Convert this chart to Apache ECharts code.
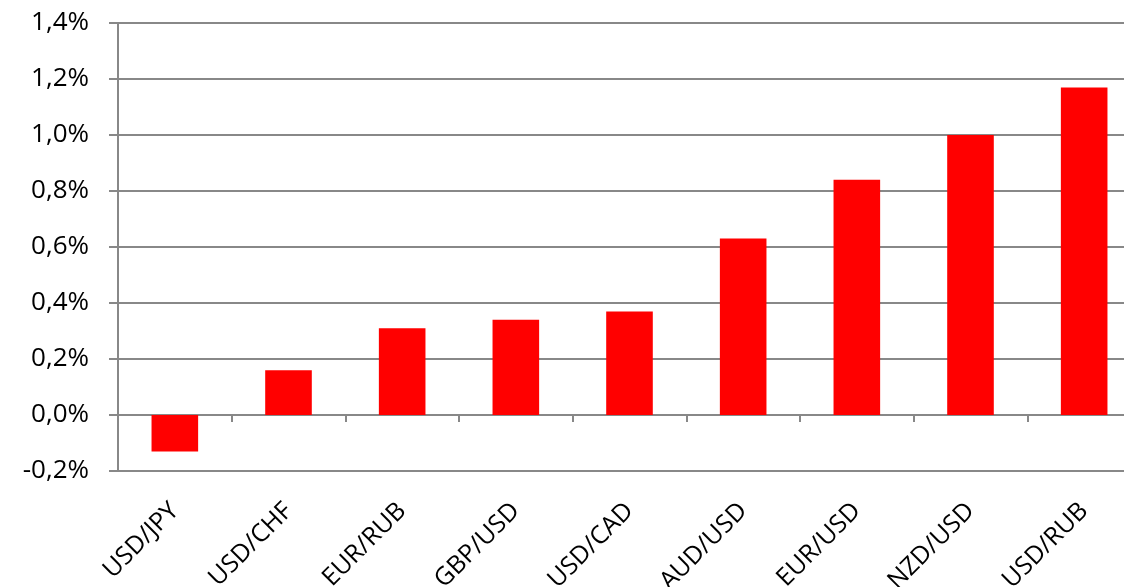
<!DOCTYPE html>
<html>
<head>
<meta charset="utf-8">
<script src="https://cdn.jsdelivr.net/npm/echarts@6/dist/echarts.min.js"></script>
<style>html,body{margin:0;padding:0;background:#fff}#c{width:1124px;height:587px}</style>
</head>
<body>
<div id="c"></div>
<script>
const categories = ['USD/JPY','USD/CHF','EUR/RUB','GBP/USD','USD/CAD','AUD/USD','EUR/USD','NZD/USD','USD/RUB'];
const values = [-0.13, 0.16, 0.31, 0.34, 0.37, 0.63, 0.84, 1.00, 1.17];
const yMin = -0.2, yMax = 1.4, yStep = 0.2;

const fmt = v => (Math.abs(v) < 1e-9 ? 0 : v).toFixed(1).replace('.', ',') + '%';
const chart = echarts.init(document.getElementById('c'));
const gray = '#888888';
chart.setOption({
  backgroundColor: '#ffffff',
  animation: false,
  grid: {left: 118, top: 23, height: 448, width: 1023, containLabel: false, outerBoundsMode: 'none'},
  xAxis: [
    {
      type: 'category', data: categories, position: 'bottom',
      axisLine: {show: false, onZero: false},
      axisTick: {show: false},
      axisLabel: {rotate: 45, interval: 0, margin: 36, fontFamily: 'Open Sans', fontSize: 25, color: '#000'}
    },
    {
      type: 'category', data: categories, position: 'bottom',
      axisLine: {show: true, onZero: true, lineStyle: {color: gray, width: 2}},
      axisTick: {show: true, inside: false, length: 7, lineStyle: {color: gray, width: 2}},
      axisLabel: {show: false}
    }
  ],
  yAxis: {
    type: 'value', min: yMin, max: yMax, interval: yStep,
    axisLine: {show: true, lineStyle: {color: gray, width: 2}},
    axisTick: {show: true, length: 9, lineStyle: {color: gray, width: 2}},
    splitLine: {show: true, lineStyle: {color: gray, width: 2}},
    axisLabel: {formatter: fmt, fontFamily: 'Open Sans', fontSize: 26, color: '#000', margin: 29}
  },
  series: [{
    type: 'bar', data: values, xAxisIndex: 0, barWidth: '41%',
    itemStyle: {color: '#ff0000'}
  }]
});
</script>
</body>
</html>
